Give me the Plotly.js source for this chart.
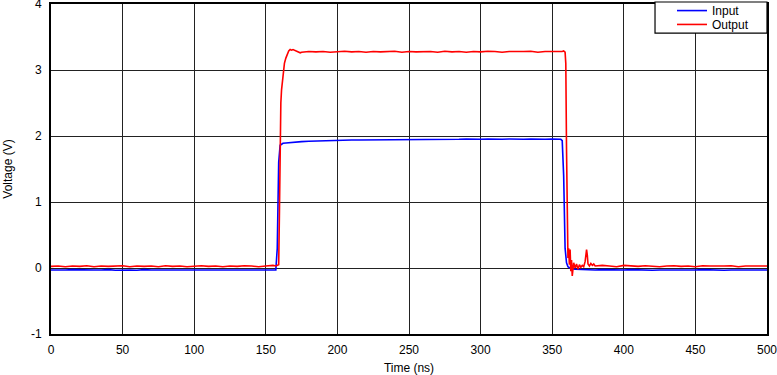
<!DOCTYPE html>
<html>
<head>
<meta charset="utf-8">
<script src="https://cdn.plot.ly/plotly-3.0.1.min.js"></script>
<style>html,body{margin:0;padding:0;background:#fff;}#chart{width:777px;height:375px;}</style>
</head>
<body>
<div id="chart"></div>
<script>
// Input (blue) trace
const inputTime = [0,5,10,15,20,25,30,35,40,45,50,55,60,65,70,75,80,85,90,95,100,105,110,115,120,125,130,135,140,145,150,155,
  157,158,159,160,161,162,164,166,168,170,
  175,180,185,190,195,200,205,210,215,220,225,230,235,240,245,250,255,260,265,270,275,280,285,290,295,300,305,310,315,320,325,330,335,340,345,350,355,
  356,357,358,359,360,361,363,366,370,
  375,380,385,390,395,400,405,410,415,420,425,430,435,440,445,450,455,460,465,470,475,480,485,490,495,500];
const inputVolt = [-0.03,-0.035,-0.03,-0.025,-0.03,-0.035,-0.03,-0.03,-0.025,-0.035,-0.03,-0.03,-0.035,-0.025,-0.03,-0.03,-0.035,-0.03,-0.025,-0.03,-0.035,-0.03,-0.03,-0.025,-0.03,-0.035,-0.03,-0.03,-0.025,-0.035,-0.03,-0.03,
  -0.03,0.3,1.6,1.86,1.88,1.89,1.895,1.9,1.905,1.91,
  1.915,1.92,1.925,1.925,1.93,1.935,1.935,1.94,1.94,1.94,1.945,1.94,1.945,1.945,1.945,1.95,1.945,1.95,1.95,1.945,1.95,1.95,1.95,1.955,1.95,1.95,1.955,1.95,1.95,1.955,1.95,1.95,1.955,1.95,1.95,1.955,1.95,
  1.95,1.93,1.4,0.3,0.08,0.02,-0.01,-0.02,-0.025,
  -0.025,-0.03,-0.025,-0.03,-0.035,-0.03,-0.025,-0.03,-0.03,-0.035,-0.03,-0.025,-0.03,-0.03,-0.035,-0.03,-0.025,-0.03,-0.03,-0.035,-0.03,-0.03,-0.025,-0.03,-0.035,-0.03];

// Output (red) trace
const outputTime = [0,5,10,15,20,25,30,35,40,45,50,55,60,65,70,75,80,85,90,95,100,105,110,115,120,125,130,135,140,145,150,155,
  157,158,159,159.5,160,160.5,161,162,163,164,165,166,167,168,169,170,171,172,173,174,
  175,180,185,190,195,200,205,210,215,220,225,230,235,240,245,250,255,260,265,270,275,280,285,290,295,300,305,310,315,320,325,330,335,340,345,350,355,
  357,358,359,359.5,360,360.5,361,361.5,362,362.5,363,363.5,364,365,366,367,368,369,370,371,372,373,374,374.5,375,376,377,378,379,
  380,385,390,395,400,405,410,415,420,425,430,435,440,445,450,455,460,465,470,475,480,485,490,495,500];
const outputVolt = [0.025,0.03,0.02,0.03,0.025,0.035,0.02,0.03,0.025,0.03,0.035,0.02,0.03,0.025,0.03,0.02,0.035,0.025,0.03,0.02,0.03,0.035,0.025,0.03,0.02,0.03,0.025,0.035,0.03,0.02,0.03,0.04,
  0.03,0.04,0.05,0.8,1.8,2.5,2.7,2.95,3.1,3.18,3.25,3.29,3.31,3.3,3.31,3.3,3.3,3.29,3.27,3.26,
  3.27,3.28,3.275,3.28,3.27,3.28,3.285,3.275,3.28,3.27,3.28,3.275,3.28,3.285,3.27,3.28,3.275,3.28,3.28,3.27,3.285,3.275,3.28,3.27,3.28,3.275,3.285,3.28,3.27,3.28,3.275,3.28,3.285,3.27,3.28,3.275,3.28,
  3.28,3.29,3.27,3.1,1.8,0.6,0.15,0.3,0.05,0.28,-0.05,0.12,-0.12,0.08,0.0,0.06,-0.02,0.05,0.01,0.04,0.02,0.1,0.28,0.2,0.06,0.03,0.07,0.04,0.06,
  0.03,0.04,0.03,0.02,0.04,0.03,0.025,0.035,0.03,0.02,0.03,0.035,0.025,0.03,0.02,0.035,0.03,0.025,0.03,0.035,0.02,0.03,0.025,0.03,0.03];

const xTicks = [0,50,100,150,200,250,300,350,400,450,500];
const yTicks = [-1,0,1,2,3,4];

const fam = 'Liberation Sans, Arial, sans-serif';

const traces = [
  {x: inputTime, y: inputVolt, name: 'Input', mode: 'lines', line: {color: '#0000ff', width: 1.6}, legend: 'legend'},
  {x: outputTime, y: outputVolt, name: 'Output', mode: 'lines', line: {color: '#ff0000', width: 1.6}, legend: 'legend2'}
];

const legendBase = {xanchor: 'left', yanchor: 'top', bgcolor: 'rgba(0,0,0,0)', borderwidth: 0,
  font: {family: fam, size: 12, color: '#000'}, itemwidth: 30};

const layout = {
  width: 777, height: 375,
  margin: {l: 51, r: 10, t: 4, b: 41, autoexpand: false},
  paper_bgcolor: '#fff', plot_bgcolor: '#fff',
  font: {family: fam, size: 12, color: '#000'},
  showlegend: true,
  shapes: [{type: 'rect', xref: 'paper', yref: 'paper', x0: 0.8436, x1: 1.0, y0: 0.912, y1: 1.006,
    fillcolor: '#fff', line: {color: '#000', width: 1.2}, layer: 'above'}],
  legend: Object.assign({}, legendBase, {x: 0.8673, y: 1.024}),
  legend2: Object.assign({}, legendBase, {x: 0.8673, y: 0.982}),
  xaxis: {range: [0, 500], tickvals: xTicks, ticktext: xTicks.map(String), ticks: '', showgrid: true, gridcolor: '#222', gridwidth: 1,
    zeroline: false, showline: true, linecolor: '#000', linewidth: 2, mirror: true, ticklabeloverflow: 'allow', ticklabelstandoff: 4,
    automargin: false, title: {text: 'Time (ns)', font: {size: 12}, standoff: 10}, tickfont: {size: 12}},
  yaxis: {range: [-1, 4], tickvals: yTicks, ticktext: yTicks.map(String), ticks: '', showgrid: true, gridcolor: '#222', gridwidth: 1,
    zeroline: false, showline: true, linecolor: '#000', linewidth: 2, mirror: true, ticklabeloverflow: 'allow', ticklabelstandoff: 5,
    automargin: false, title: {text: 'Voltage (V)', font: {size: 12}, standoff: 16}, tickfont: {size: 12}}
};

Plotly.newPlot('chart', traces, layout, {displayModeBar: false, staticPlot: true});
</script>
</body>
</html>
